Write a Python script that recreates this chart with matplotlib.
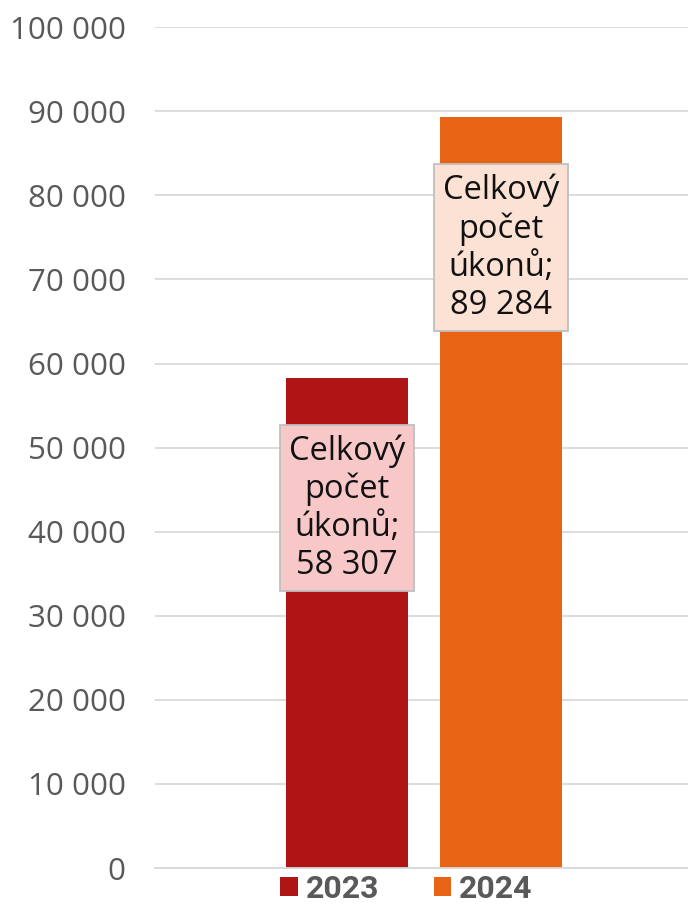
import numpy as np
import matplotlib.pyplot as plt
from matplotlib.patches import Patch
from matplotlib.ticker import FuncFormatter

# data
years = ['2023', '2024']
values = [58307, 89284]
bar_colors = ['#AF1515', '#E86414']
box_colors = ['#F8C8C8', '#FBE2D4']
label_title = 'Celkový\npočet\núkonů;'

plt.rcParams['font.family'] = ['DejaVu Sans']

fig = plt.figure(figsize=(6.88, 9.08), dpi=100)
ax = fig.add_axes([0.2253, 0.044, 0.7747, 0.926])

x = np.arange(len(years))
ax.bar(x, values, width=0.79, color=bar_colors, zorder=2)

def fmt(v, pos):
    return '{:,}'.format(int(v)).replace(',', ' ')

ax.set_ylim(0, 100000)
ax.set_yticks(np.arange(0, 100001, 10000))
ax.yaxis.set_major_formatter(FuncFormatter(fmt))
ax.set_xlim(-1.247, 2.214)
ax.set_xticks([])

ax.grid(axis='y', color='#D9D9D9', linewidth=1.3, zorder=0)
for s in ['top', 'right', 'left']:
    ax.spines[s].set_visible(False)
ax.spines['bottom'].set_color('#D9D9D9')
ax.spines['bottom'].set_linewidth(1.3)
ax.tick_params(axis='y', length=0, pad=21, labelsize=22.5, labelcolor='#595959')
for t in ax.get_yticklabels():
    t.set_family('Open Sans')

for xi, v, bc in zip(x, values, box_colors):
    txt = label_title + '\n' + fmt(v, None)
    ax.text(xi, v - 15500, txt, ha='center', va='center', fontsize=23.5,
            family='Open Sans', color='#111111', linespacing=1.2, zorder=3,
            bbox=dict(boxstyle='square,pad=0.28', facecolor=bc,
                      edgecolor='#BFBFBF', linewidth=1.3))

handles = [Patch(facecolor=c, edgecolor='none') for c in bar_colors]
leg = fig.legend(handles, years, loc='center', bbox_to_anchor=(0.591, 0.021),
                 ncol=2, frameon=False, handlelength=0.55, handleheight=0.55,
                 handletextpad=0.25, columnspacing=1.7,
                 prop={'family': 'Roboto', 'weight': 'bold', 'size': 23})
for t in leg.get_texts():
    t.set_color('#595959')

fig.savefig('out.png', dpi=100)
